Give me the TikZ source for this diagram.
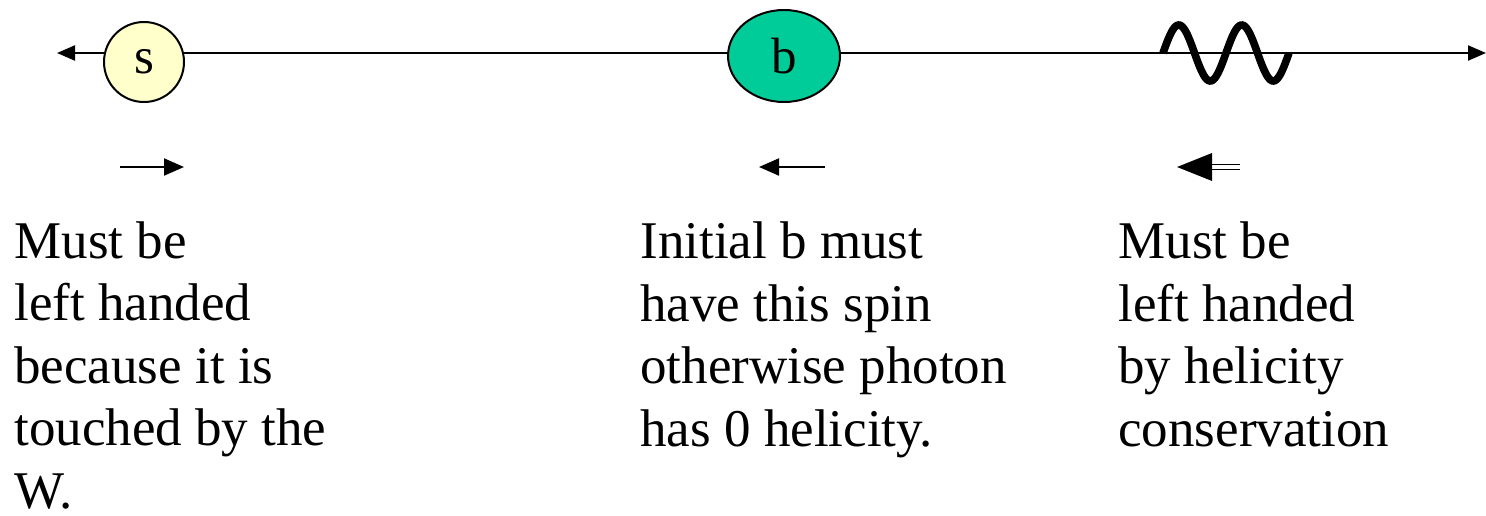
\documentclass[tikz,border=0pt]{standalone}
\usepackage{fontspec}
\setmainfont{Liberation Serif}
\usetikzlibrary{arrows.meta,shapes.geometric}
\definecolor{sfill}{HTML}{FFFFCC}
\definecolor{bfill}{HTML}{00CC99}
\begin{document}
\begin{tikzpicture}[x=0.5pt,y=-0.5pt,
  mainline/.style={line width=1pt},
  quark/.style={draw,line width=1pt,inner sep=0pt,font=\fontsize{25.5}{30}\selectfont},
  spinarrow/.style={line width=1pt,-{Triangle[length=10pt,width=8.5pt]}},
  txt/.style={anchor=base west,align=left,inner sep=0pt,font=\fontsize{26.5}{31.25}\selectfont}]
\useasboundingbox (0,0) rectangle (1486,515);
% main line
\coordinate (L) at (57,53);
\coordinate (R) at (1486,53);
\draw[mainline,{Triangle[length=9pt,width=7.5pt]}-{Triangle[length=9pt,width=7.5pt]}] (L) -- (R);
% quarks
\node[quark,circle,fill=sfill,minimum size=40pt] (s) at (144,62) {s};
\node[quark,ellipse,fill=bfill,minimum width=56pt,minimum height=46pt] (b) at (784,56) {b};
% photon wave
\draw[line width=3.8pt] plot[domain=0:2,samples=90,smooth] ({1163+63*\x},{53-28*sin(360*\x)});
% spin arrows
\coordinate (a1s) at (120,167); \coordinate (a1e) at (184,167);
\draw[spinarrow] (a1s) -- (a1e);
\coordinate (a2s) at (825,167); \coordinate (a2e) at (759,167);
\draw[spinarrow] (a2s) -- (a2e);
\coordinate (a3s) at (1240,167); \coordinate (a3m) at (1205,167); \coordinate (a3e) at (1177,167);
\draw[line width=0.6pt,double,double distance=2pt] (a3s) -- (a3m);
\fill (a3e) -- ++(35,-14) -- ++(0,28) -- cycle;
% texts (anchor at baseline of last line)
\node[txt] (t1) at (14,508) {Must be\\left handed\\because it is\\touched by the\\W.};
\node[txt] (t2) at (640,446) {Initial b must\\have this spin\\otherwise photon\\has 0 helicity.};
\node[txt] (t3) at (1118,446) {Must be\\left handed\\by helicity\\conservation};
\end{tikzpicture}
\end{document}
